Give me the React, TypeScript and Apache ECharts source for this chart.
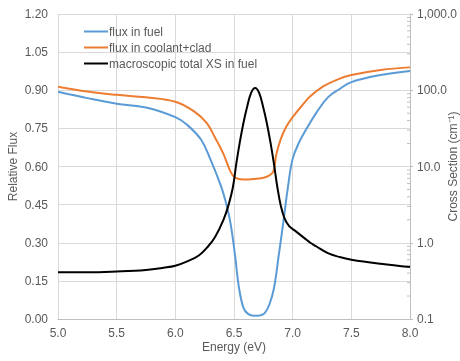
import React, { useEffect, useRef } from 'react';
import * as echarts from 'echarts';

const xTicks = [5.0, 5.5, 6.0, 6.5, 7.0, 7.5, 8.0];

const fuelEnergy = [5.0, 5.25, 5.5, 5.75, 6.0, 6.1, 6.22, 6.3, 6.39, 6.43, 6.47, 6.51, 6.54, 6.58, 6.62, 6.67, 6.72, 6.76, 6.8, 6.84, 6.88, 6.92, 6.96, 7.0, 7.06, 7.12, 7.2, 7.3, 7.4, 7.5, 7.75, 8.0];
const fuelFlux = [0.894, 0.869, 0.847, 0.832, 0.794, 0.764, 0.705, 0.627, 0.522, 0.46, 0.377, 0.246, 0.13, 0.045, 0.02, 0.013, 0.014, 0.022, 0.055, 0.12, 0.246, 0.38, 0.52, 0.63, 0.7, 0.75, 0.81, 0.872, 0.905, 0.932, 0.96, 0.976];

const coolEnergy = [5.0, 5.25, 5.5, 5.75, 6.0, 6.16, 6.27, 6.34, 6.41, 6.47, 6.51, 6.56, 6.62, 6.68, 6.74, 6.79, 6.835, 6.86, 6.9, 6.95, 7.01, 7.08, 7.15, 7.26, 7.38, 7.5, 7.75, 8.0];
const coolFlux = [0.914, 0.895, 0.882, 0.872, 0.855, 0.817, 0.77, 0.712, 0.65, 0.58, 0.556, 0.55, 0.549, 0.551, 0.555, 0.562, 0.58, 0.646, 0.71, 0.76, 0.8, 0.84, 0.876, 0.915, 0.942, 0.96, 0.98, 0.99];

const xsEnergy = [5.0, 5.25, 5.5, 5.75, 5.9, 6.0, 6.1, 6.2, 6.28, 6.34, 6.41, 6.45, 6.49, 6.52, 6.55, 6.58, 6.61, 6.645, 6.68, 6.715, 6.75, 6.78, 6.81, 6.84, 6.87, 6.9, 6.93, 6.97, 7.03, 7.1, 7.15, 7.2, 7.3, 7.4, 7.5, 7.75, 8.0];
const xsValue = [0.41, 0.41, 0.42, 0.44, 0.47, 0.5, 0.57, 0.68, 0.9, 1.2, 2.0, 3.0, 5.3, 11, 21, 37, 59, 92, 107, 92, 59, 37, 21, 11, 5.3, 3.0, 2.1, 1.65, 1.4, 1.15, 1.0, 0.9, 0.73, 0.65, 0.6, 0.53, 0.48];

const fluxTicks = [0, 0.15, 0.3, 0.45, 0.6, 0.75, 0.9, 1.05, 1.2];
const xsMinorTicks = [0.2, 0.3, 0.4, 0.5, 0.6, 0.7, 0.8, 0.9, 2, 3, 4, 5, 6, 7, 8, 9, 20, 30, 40, 50, 60, 70, 80, 90, 200, 300, 400, 500, 600, 700, 800, 900];

const seriesNames = ['flux in fuel', 'flux in coolant+clad', 'macroscopic total XS in fuel'];
const colors = ['#5B9BD5', '#ED7D31', '#000000'];

const FONT = '"Liberation Sans", Arial, sans-serif';
const TEXT = '#595959';
const LEGEND_LINE = 'path://M0,0 L0,0 M0,6 L24,6 L24,8 L0,8 Z M24,14 L24,14';

export default function App() {
  const ref = useRef<HTMLDivElement>(null);
  useEffect(() => {
    const chart = echarts.init(ref.current!, null, { renderer: 'svg' });
    const zip = (a: number[], b: number[]) => a.map((x, i) => [x, b[i]]);
    chart.setOption({
      animation: false,
      textStyle: { fontFamily: FONT },
      grid: { left: 58, right: 50, top: 14, bottom: 42, containLabel: false, outerBoundsMode: 'none' },
      legend: {
        data: seriesNames,
        orient: 'vertical',
        left: 84,
        top: 24.5,
        padding: 0,
        itemWidth: 24,
        itemHeight: 14,
        itemGap: 2,
        icon: LEGEND_LINE,
        textStyle: { color: TEXT, fontSize: 12, fontFamily: FONT, padding: [0, 0, 0, -4] },
      },
      xAxis: {
        type: 'value',
        min: xTicks[0],
        max: xTicks[xTicks.length - 1],
        interval: 0.5,
        name: 'Energy (eV)',
        nameLocation: 'middle',
        nameGap: 22,
        nameMoveOverlap: false,
        nameTextStyle: { color: TEXT, fontSize: 12 },
        axisLine: { show: true, lineStyle: { color: '#bfbfbf' } },
        axisTick: { show: false },
        axisLabel: { color: TEXT, fontSize: 12, margin: 8, formatter: (v: number) => v.toFixed(1) },
        splitLine: { show: true, lineStyle: { color: '#d9d9d9' } },
      },
      yAxis: [
        {
          type: 'value',
          min: fluxTicks[0],
          max: fluxTicks[fluxTicks.length - 1],
          interval: 0.15,
          name: 'Relative Flux',
          nameLocation: 'middle',
          nameRotate: 90,
          nameGap: 39,
          nameMoveOverlap: false,
          nameTextStyle: { color: TEXT, fontSize: 12 },
          axisLine: { show: false },
          axisTick: { show: false },
          axisLabel: { color: TEXT, fontSize: 12, margin: 10, formatter: (v: number) => v.toFixed(2) },
          splitLine: { show: true, lineStyle: { color: '#d9d9d9' } },
        },
        {
          type: 'log',
          logBase: 10,
          min: 0.1,
          max: 1000,
          position: 'right',
          name: 'Cross Section (cm⁻¹)',
          nameLocation: 'middle',
          nameRotate: 90,
          nameGap: 37,
          nameMoveOverlap: false,
          nameTextStyle: { color: TEXT, fontSize: 12 },
          axisLine: { show: true, lineStyle: { color: '#bfbfbf' } },
          axisTick: { show: true, length: 3, lineStyle: { color: '#bfbfbf' } },
          axisLabel: {
            color: TEXT,
            fontSize: 12,
            margin: 7,
            formatter: (v: number) => v.toLocaleString('en-US', { minimumFractionDigits: 1, maximumFractionDigits: 1 }),
          },
          splitLine: { show: false },
        },
      ],
      series: [
        {
          name: 'minor',
          type: 'custom',
          yAxisIndex: 1,
          silent: true,
          data: xsMinorTicks.map((v) => [xTicks[xTicks.length - 1], v]),
          renderItem: (_p: any, api: any) => {
            const pt = api.coord([api.value(0), api.value(1)]);
            return {
              type: 'line',
              shape: { x1: pt[0] - 3, y1: pt[1], x2: pt[0], y2: pt[1] },
              style: { stroke: '#bfbfbf', lineWidth: 1 },
            };
          },
          z: 1,
        },
        {
          name: seriesNames[0],
          type: 'line',
          data: zip(fuelEnergy, fuelFlux),
          showSymbol: false,
          symbol: 'none',
          smooth: 0.4,
          lineStyle: { color: colors[0], width: 2 },
          itemStyle: { color: colors[0] },
          z: 3,
        },
        {
          name: seriesNames[1],
          type: 'line',
          data: zip(coolEnergy, coolFlux),
          showSymbol: false,
          symbol: 'none',
          smooth: 0.4,
          lineStyle: { color: colors[1], width: 2 },
          itemStyle: { color: colors[1] },
          z: 3,
        },
        {
          name: seriesNames[2],
          type: 'line',
          yAxisIndex: 1,
          data: zip(xsEnergy, xsValue),
          showSymbol: false,
          symbol: 'none',
          smooth: 0.4,
          lineStyle: { color: colors[2], width: 2 },
          itemStyle: { color: colors[2] },
          z: 4,
        },
      ],
    });
    return () => chart.dispose();
  }, []);
  return <div ref={ref} style={{ position: 'fixed', left: 0, top: 0, width: 460, height: 361 }} />;
}
